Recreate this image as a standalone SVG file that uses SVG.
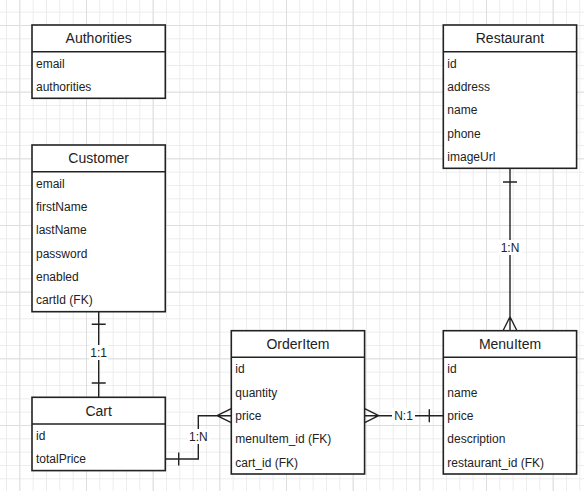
<svg xmlns="http://www.w3.org/2000/svg" width="584" height="498" viewBox="0 0 584 498">
<defs>
<pattern id="minor" width="13.333" height="13.333" patternUnits="userSpaceOnUse" x="6" y="11.667">
<path d="M0 0.5H13.333M0.5 0V13.333" stroke="#ececec" stroke-width="1" fill="none"/>
</pattern>
<pattern id="major" width="66.667" height="66.667" patternUnits="userSpaceOnUse" x="19.333" y="25">
<path d="M0 0.5H66.667M0.5 0V66.667" stroke="#dedede" stroke-width="1" fill="none"/>
</pattern>
<style>
.box{fill:#fff;stroke:#222;stroke-width:1.6}
.div{stroke:#222;stroke-width:1.6}
.hd{font-family:"Liberation Sans",Arial,sans-serif;font-size:14px;fill:#222;text-anchor:middle}
.rw{font-family:"Liberation Sans",Arial,sans-serif;font-size:12px;fill:#222}
.ln{fill:none;stroke:#222;stroke-width:1.4}
.lb{font-family:"Liberation Sans",Arial,sans-serif;font-size:12px;fill:#222;text-anchor:middle}
.lbg{fill:#fff}
</style>
</defs>
<rect x="0" y="0" width="584" height="491" fill="url(#minor)"/>
<rect x="0" y="0" width="584" height="491" fill="url(#major)"/>

<g id="connectors">
<!-- Customer - Cart -->
<path class="ln" d="M98.7 311.7V397.3M91.7 324.3H105.7M91.7 383H105.7"/>
<rect class="lbg" x="89" y="345" width="19" height="15"/>
<text class="lb" x="98.7" y="357">1:1</text>
<!-- Cart - OrderItem -->
<path class="ln" d="M165.3 459H198.3V415.7H231.3M178.7 452.5V465.5M217 415.7L231.3 408.7M217 415.7L231.3 422.7"/>
<rect class="lbg" x="187" y="429" width="23" height="15"/>
<text class="lb" x="198.3" y="441">1:N</text>
<!-- OrderItem - MenuItem -->
<path class="ln" d="M364.7 415.7H443.3M378.7 415.7L364.7 408.7M378.7 415.7L364.7 422.7M429.3 409.2V422.2"/>
<rect class="lbg" x="392" y="408" width="23" height="15"/>
<text class="lb" x="403.5" y="420">N:1</text>
<!-- Restaurant - MenuItem -->
<path class="ln" d="M510 168.3V330.7M503 182H517M510 316.7L503 330.7M510 316.7L517 330.7"/>
<rect class="lbg" x="498.5" y="240" width="23" height="15"/>
<text class="lb" x="510" y="252">1:N</text>
</g>

<g id="authorities">
<rect class="box" x="32" y="25" width="133.3" height="73.3"/>
<line class="div" x1="32" y1="51.7" x2="165.3" y2="51.7"/>
<text class="hd" x="98.7" y="43.3">Authorities</text>
<text class="rw" x="36" y="67.5">email</text>
<text class="rw" x="36" y="90.8">authorities</text>
</g>

<g id="restaurant">
<rect class="box" x="443.3" y="25" width="133.3" height="143.3"/>
<line class="div" x1="443.3" y1="51.7" x2="576.7" y2="51.7"/>
<text class="hd" x="510" y="43.3">Restaurant</text>
<text class="rw" x="447.3" y="67.5">id</text>
<text class="rw" x="447.3" y="90.8">address</text>
<text class="rw" x="447.3" y="114.2">name</text>
<text class="rw" x="447.3" y="137.5">phone</text>
<text class="rw" x="447.3" y="160.8">imageUrl</text>
</g>

<g id="customer">
<rect class="box" x="32" y="145" width="133.3" height="166.7"/>
<line class="div" x1="32" y1="171.7" x2="165.3" y2="171.7"/>
<text class="hd" x="98.7" y="163.3">Customer</text>
<text class="rw" x="36" y="187.5">email</text>
<text class="rw" x="36" y="210.8">firstName</text>
<text class="rw" x="36" y="234.2">lastName</text>
<text class="rw" x="36" y="257.5">password</text>
<text class="rw" x="36" y="280.8">enabled</text>
<text class="rw" x="36" y="304.2">cartId (FK)</text>
</g>

<g id="cart">
<rect class="box" x="32" y="397.3" width="133.3" height="73.3"/>
<line class="div" x1="32" y1="424" x2="165.3" y2="424"/>
<text class="hd" x="98.7" y="415.6">Cart</text>
<text class="rw" x="36" y="439.8">id</text>
<text class="rw" x="36" y="463.1">totalPrice</text>
</g>

<g id="orderitem">
<rect class="box" x="231.3" y="330.7" width="133.3" height="143.3"/>
<line class="div" x1="231.3" y1="357.3" x2="364.7" y2="357.3"/>
<text class="hd" x="298" y="349">OrderItem</text>
<text class="rw" x="235.3" y="373.2">id</text>
<text class="rw" x="235.3" y="396.5">quantity</text>
<text class="rw" x="235.3" y="419.8">price</text>
<text class="rw" x="235.3" y="443.2">menuItem_id (FK)</text>
<text class="rw" x="235.3" y="466.5">cart_id (FK)</text>
</g>

<g id="menuitem">
<rect class="box" x="443.3" y="330.7" width="133.3" height="143.3"/>
<line class="div" x1="443.3" y1="357.3" x2="576.7" y2="357.3"/>
<text class="hd" x="510" y="349">MenuItem</text>
<text class="rw" x="447.3" y="373.2">id</text>
<text class="rw" x="447.3" y="396.5">name</text>
<text class="rw" x="447.3" y="419.8">price</text>
<text class="rw" x="447.3" y="443.2">description</text>
<text class="rw" x="447.3" y="466.5">restaurant_id (FK)</text>
</g>
</svg>
